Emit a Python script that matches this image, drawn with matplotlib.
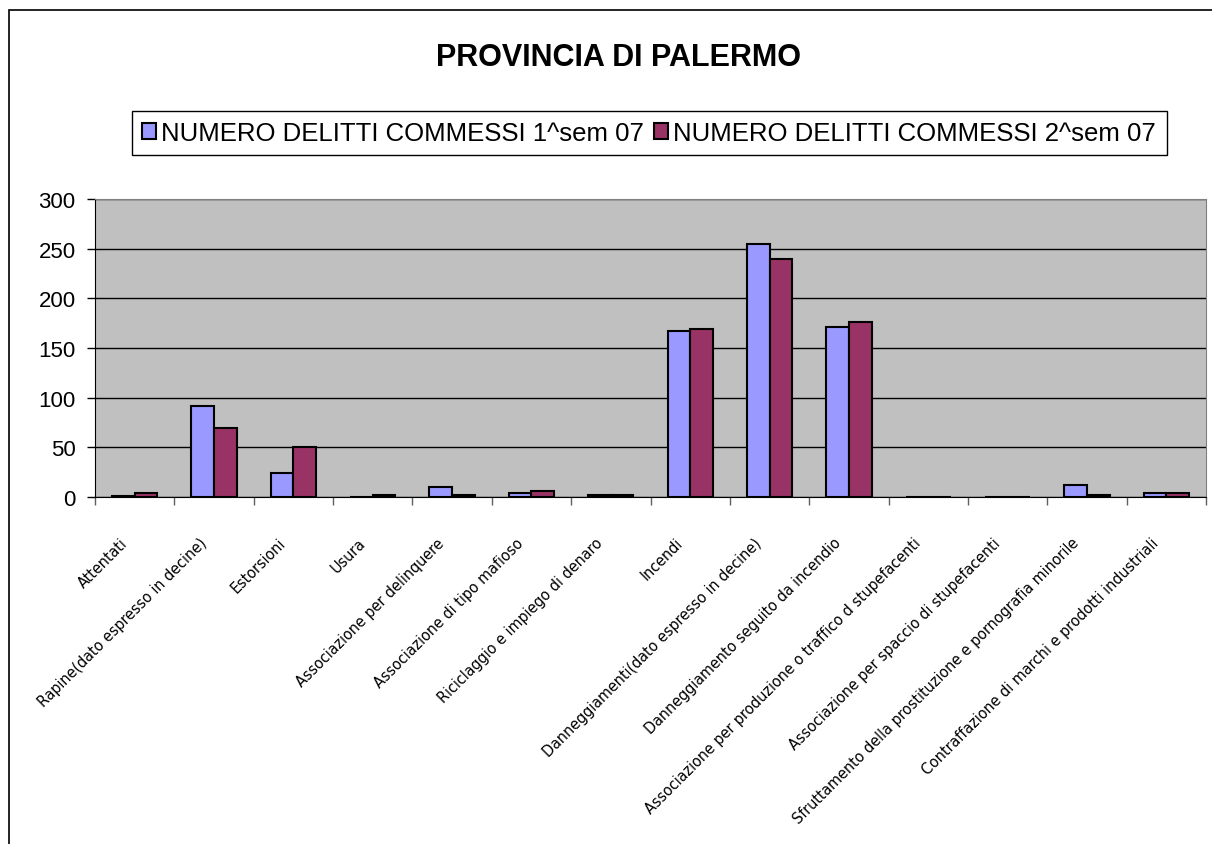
import numpy as np
import matplotlib.pyplot as plt
from matplotlib import font_manager as fm
from matplotlib.patches import Rectangle
from matplotlib.transforms import ScaledTranslation

plt.rcParams['font.family'] = ['Liberation Sans', 'DejaVu Sans']

categories = [
    'Attentati',
    'Rapine(dato espresso in decine)',
    'Estorsioni',
    'Usura',
    'Associazione per delinquere',
    'Associazione di tipo mafioso',
    'Riciclaggio e impiego di denaro',
    'Incendi',
    'Danneggiamenti(dato espresso in decine)',
    'Danneggiamento seguito da incendio',
    'Associazione per produzione o traffico d stupefacenti',
    'Associazione per spaccio di stupefacenti',
    'Sfruttamento della prostituzione e pornografia minorile',
    'Contraffazione di marchi e prodotti industriali',
]
sem1 = [1, 92, 24, 0, 10, 4, 2, 167, 255, 171, 0, 0, 12, 4]
sem2 = [4, 69, 50, 2, 2, 6, 2, 169, 240, 176, 0, 0, 2, 4]
series_labels = ['NUMERO DELITTI COMMESSI 1^sem 07', 'NUMERO DELITTI COMMESSI 2^sem 07']
yticks = [0, 50, 100, 150, 200, 250, 300]

# narrow upright font for the category labels, if one is installed
narrow = [f for f in fm.fontManager.ttflist
          if ('Narrow' in f.name or 'Condensed' in f.name
              or 'condensed' in str(f.stretch))
          and f.style == 'normal' and f.weight in (400, 'normal', 'regular')]
if narrow:
    lab_font = fm.FontProperties(fname=narrow[0].fname, size=11.5)
else:
    lab_font = fm.FontProperties(family='Liberation Sans', size=10.5)

fig = plt.figure(figsize=(12.12, 8.45), dpi=100)
ax = fig.add_axes([95 / 1212, 1 - 498 / 845, (1206 - 95) / 1212, 298 / 845])

# outer chart frame (right/bottom cut off)
fig.add_artist(Rectangle((9 / 1212, -0.1), 1.2, 1.1 - 11 / 845, transform=fig.transFigure,
                         fill=False, edgecolor='black', linewidth=1.2))

x = np.arange(len(categories))
w = 1 / 3.5
b1 = ax.bar(x - w / 2, sem1, w, color='#9999FF', edgecolor='black', linewidth=1.5,
            label=series_labels[0], zorder=3)
b2 = ax.bar(x + w / 2, sem2, w, color='#993366', edgecolor='black', linewidth=1.5,
            label=series_labels[1], zorder=3)

ax.set_facecolor('#C0C0C0')
ax.set_xlim(-0.5, len(categories) - 0.5)
ax.set_ylim(0, 300)
ax.set_yticks(yticks)
ax.yaxis.grid(True, color='black', linewidth=1, zorder=1)
ax.set_axisbelow(True)
ax.tick_params(axis='y', labelsize=16, length=6, width=1, direction='out', pad=8)

ax.set_xticks(x)
ax.set_xticklabels(categories, rotation=45, ha='right', va='center',
                   rotation_mode='anchor', fontproperties=lab_font)
ax.set_xticks(np.arange(-0.5, len(categories)), minor=True)
ax.tick_params(axis='x', which='major', length=0, pad=31)
ax.tick_params(axis='x', which='minor', length=6, width=1, color='#606060')
for lab in ax.get_xticklabels():
    lab.set_transform(lab.get_transform() + ScaledTranslation(-0.10, 0, fig.dpi_scale_trans))

for s in ['top', 'right']:
    ax.spines[s].set_color('#808080')
ax.spines['left'].set_color('black')
ax.spines['bottom'].set_color('black')

fig.text(0.51, 1 - 58 / 845, 'PROVINCIA DI PALERMO', ha='center', va='center',
         fontsize=22, fontweight='bold')

leg = fig.legend(handles=[b1, b2], loc='center', ncol=2,
                 bbox_to_anchor=(649 / 1212, 1 - 134 / 845), fontsize=18.5,
                 frameon=True, fancybox=False, edgecolor='black', framealpha=1,
                 handlelength=0.55, handleheight=0.55, handletextpad=0.2,
                 columnspacing=0.4, borderpad=0.4, borderaxespad=0)
leg.get_frame().set_linewidth(1)

fig.savefig('out.png', dpi=100)
